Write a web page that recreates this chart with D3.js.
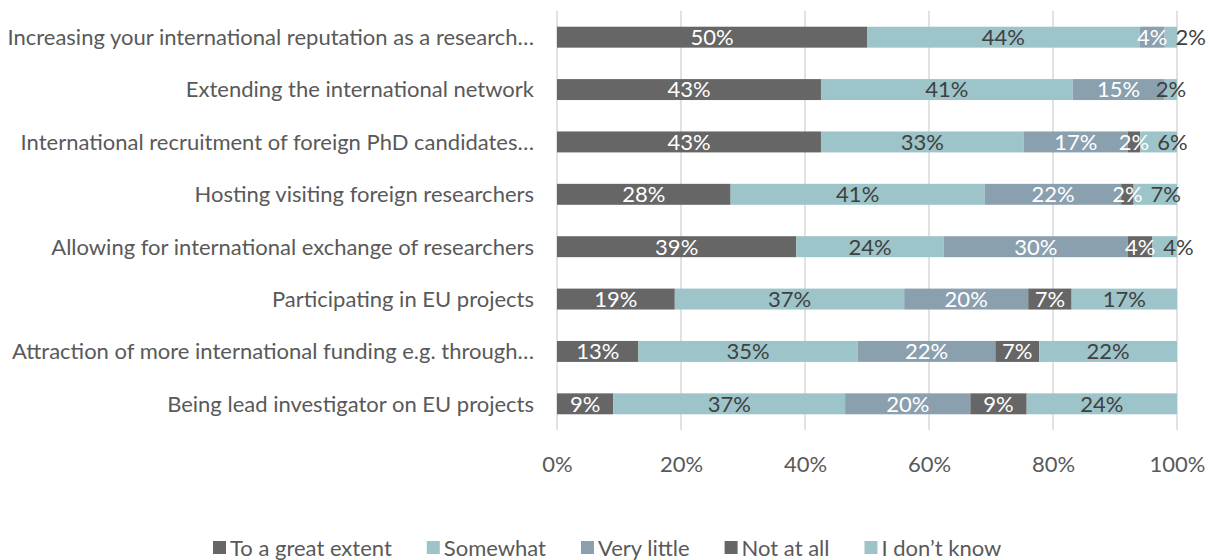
<!DOCTYPE html>
<html>
<head>
<meta charset="utf-8">
<script src="https://d3js.org/d3.v7.min.js"></script>
<style>
  body { margin: 0; background: #fff; }
  svg text { font-family: Lato, "Open Sans", sans-serif; fill: #595959; }
</style>
</head>
<body>
<script>
// chart values
var categories = [
  "Increasing your international reputation as a research\u2026",
  "Extending the international network",
  "International recruitment of foreign PhD candidates\u2026",
  "Hosting visiting foreign researchers",
  "Allowing for international exchange of researchers",
  "Participating in EU projects",
  "Attraction of more international funding e.g. through\u2026",
  "Being lead investigator on EU projects"
];
var seriesNames = ["To a great extent", "Somewhat", "Very little", "Not at all", "I don\u2019t know"];
var greatExtent = [50, 43, 43, 28, 39, 19, 13, 9];
var somewhat    = [44, 41, 33, 41, 24, 37, 35, 37];
var veryLittle  = [4, 15, 17, 22, 30, 20, 22, 20];
var notAtAll    = [0, 0, 2, 2, 4, 7, 7, 9];
var dontKnow    = [2, 2, 6, 7, 4, 17, 22, 24];
var xTicks = [0, 0.2, 0.4, 0.6, 0.8, 1];

var colors = ["#666666", "#9cc4c9", "#8ba0af", "#666666", "#9cc4c9"];
var labelColors = ["#ffffff", "#404040", "#ffffff", "#ffffff", "#404040"];

var W = 1211, H = 560;
var plotL = 557, plotR = 1177, plotT = 11, plotB = 430;
var fs = "22px";

var svg = d3.select("body").append("svg")
  .attr("width", W)
  .attr("height", H);

var rows = categories.map(function(c, i) {
  return {cat: c, s0: greatExtent[i], s1: somewhat[i], s2: veryLittle[i], s3: notAtAll[i], s4: dontKnow[i]};
});
var keys = ["s0", "s1", "s2", "s3", "s4"];

var stack = d3.stack().keys(keys).offset(d3.stackOffsetExpand);
var layers = stack(rows);

var x = d3.scaleLinear().domain([0, 1]).range([plotL, plotR]);
var y = d3.scaleBand()
  .domain(categories)
  .range([plotT, plotB])
  .paddingInner(0.6)
  .paddingOuter(0.3);

// gridlines
svg.append("g").selectAll("line")
  .data(xTicks)
  .enter().append("line")
  .attr("x1", d => x(d)).attr("x2", d => x(d))
  .attr("y1", plotT).attr("y2", plotB)
  .attr("stroke", "#d9d9d9")
  .attr("stroke-width", 1.5);

// bars
var g = svg.append("g");
layers.forEach(function(layer, k) {
  g.selectAll(null)
    .data(layer)
    .enter().append("rect")
    .attr("x", d => x(d[0]))
    .attr("width", d => Math.max(0, x(d[1]) - x(d[0])))
    .attr("y", d => y(d.data.cat))
    .attr("height", y.bandwidth())
    .attr("fill", colors[k]);
});

// data labels, centred, pushed right when they would collide
var labels = svg.append("g");
rows.forEach(function(r) {
  var prevRight = -Infinity;
  keys.forEach(function(key, k) {
    var v = r[key];
    if (!v) return;
    var seg = layers[k].find(d => d.data.cat === r.cat);
    var cx = (x(seg[0]) + x(seg[1])) / 2;
    var t = labels.append("text")
      .text(v + "%")
      .attr("y", y(r.cat) + y.bandwidth() / 2)
      .attr("dy", "0.36em")
      .attr("text-anchor", "middle")
      .style("font-size", fs)
      .style("fill", labelColors[k]);
    var w = t.node().getComputedTextLength();
    var l = Math.max(cx - w / 2, prevRight + 8);
    t.attr("x", l + w / 2);
    prevRight = l + w;
  });
});

// category axis
var yAxis = svg.append("g")
  .attr("transform", "translate(" + (plotL - 23) + ",0)")
  .call(d3.axisLeft(y).tickSize(0).tickPadding(0));
yAxis.select(".domain").remove();
yAxis.selectAll("text")
  .attr("dy", "0.36em")
  .style("font-size", fs)
  .style("font-family", "Lato, sans-serif")
  .attr("fill", "#595959");

// value axis
var xAxis = svg.append("g")
  .attr("transform", "translate(0," + plotB + ")")
  .call(d3.axisBottom(x).tickValues(xTicks).tickFormat(d3.format(".0%")).tickSize(0).tickPadding(26));
xAxis.select(".domain").remove();
xAxis.selectAll("text")
  .style("font-size", fs)
  .style("font-family", "Lato, sans-serif")
  .attr("fill", "#595959");

// legend
var legend = svg.append("g");
var lx = 213, ly = 548;
seriesNames.forEach(function(name, i) {
  legend.append("rect")
    .attr("x", lx).attr("y", ly - 7)
    .attr("width", 13).attr("height", 13)
    .attr("fill", colors[i]);
  var t = legend.append("text")
    .attr("x", lx + 17).attr("y", ly)
    .attr("dy", "0.36em")
    .style("font-size", fs)
    .text(name);
  lx += 17 + t.node().getComputedTextLength() + 35;
});
</script>
</body>
</html>
